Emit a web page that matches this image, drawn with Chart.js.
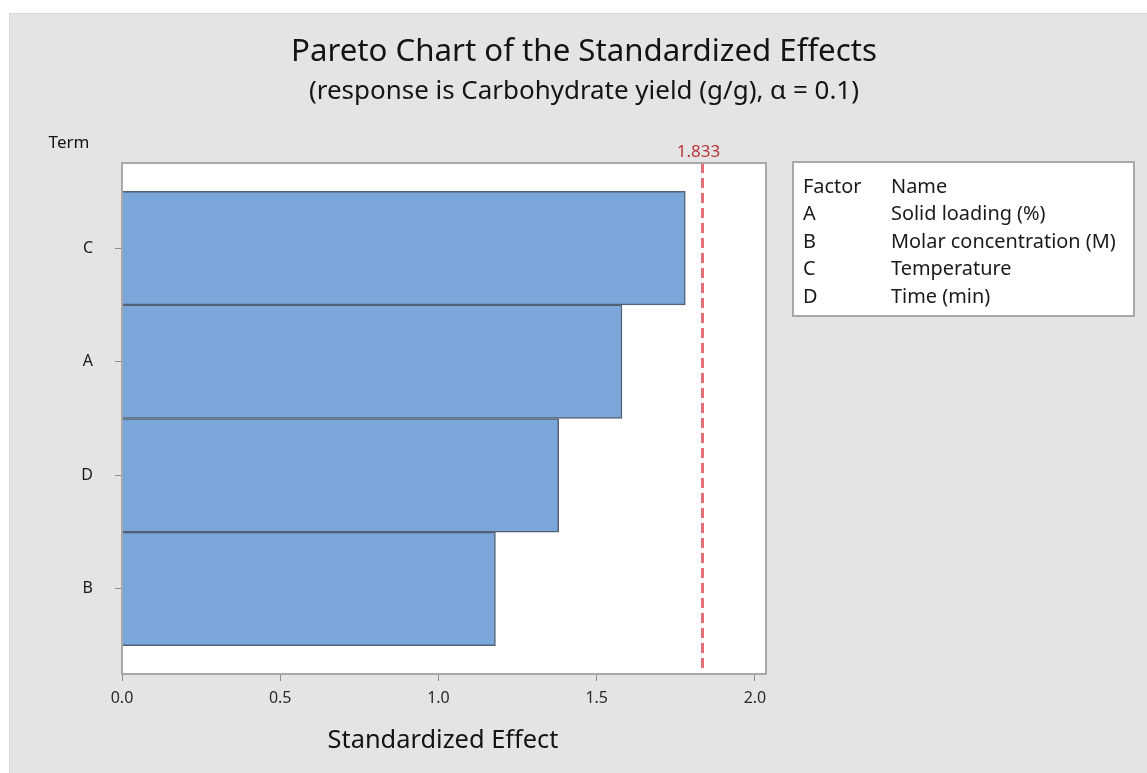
<!DOCTYPE html>
<html>
<head>
<meta charset="utf-8">
<title>Pareto Chart of the Standardized Effects</title>
<script src="https://cdn.jsdelivr.net/npm/chart.js@4/dist/chart.umd.min.js"></script>
<style>
  html, body { margin: 0; padding: 0; background: #ffffff; }
  #wrap { width: 1147px; height: 773px; }
</style>
</head>
<body>
<div id="wrap"><canvas id="pareto" width="1147" height="773"></canvas></div>
<script>
// Terms in Pareto order (largest effect first) and their standardized effects
const terms = ['C', 'A', 'D', 'B'];
const effects = [1.78, 1.58, 1.38, 1.18];

// Critical value of the standardized effect at alpha = 0.1
const criticalValue = 1.833;

// Tick values of the effect axis
const effectTicks = [0, 0.5, 1.0, 1.5, 2.0];

// Factor key shown beside the plot
const factorCodes = ['A', 'B', 'C', 'D'];
const factorNames = ['Solid loading (%)', 'Molar concentration (M)', 'Temperature', 'Time (min)'];

const titleText = 'Pareto Chart of the Standardized Effects';
const subtitleText = '(response is Carbohydrate yield (g/g), \u03B1 = 0.1)';
const xTitleText = 'Standardized Effect';
const yTitleText = 'Term';

const FONT = '"Noto Sans", "Open Sans", "DejaVu Sans", sans-serif';
Chart.defaults.font.family = FONT;

// Pick a font size so a line of text spans the given width
function fitFont(ctx, text, width, base) {
  ctx.font = base + 'px ' + FONT;
  const size = base * width / ctx.measureText(text).width;
  return size.toFixed(2) + 'px ' + FONT;
}

// Grey panel behind the whole figure plus white plot area
const panelPlugin = {
  id: 'panel',
  beforeDraw(chart) {
    const ctx = chart.ctx;
    const a = chart.chartArea;
    ctx.save();
    ctx.fillStyle = '#ffffff';
    ctx.fillRect(0, 0, chart.width, chart.height);
    ctx.fillStyle = '#d8d8d8';
    ctx.fillRect(9, 13, chart.width - 9, chart.height - 13);
    ctx.fillStyle = '#e4e4e4';
    ctx.fillRect(10, 14, chart.width - 10, chart.height - 14);
    ctx.fillStyle = '#ffffff';
    ctx.fillRect(a.left, a.top, a.right - a.left, a.bottom - a.top);
    ctx.restore();
  }
};

// Frame, reference line, titles and factor key
const decorPlugin = {
  id: 'decor',
  afterDatasetsDraw(chart) {
    const ctx = chart.ctx;
    const a = chart.chartArea;
    const xs = chart.scales.x;
    ctx.save();

    // dashed reference line at the critical value
    const xc = Math.round(xs.getPixelForValue(criticalValue)) + 0.5;
    ctx.strokeStyle = '#e46f75';
    ctx.lineWidth = 3;
    ctx.setLineDash([10, 5]);
    ctx.beginPath();
    ctx.moveTo(xc, a.top);
    ctx.lineTo(xc, a.bottom);
    ctx.stroke();
    ctx.setLineDash([]);

    // plot frame
    ctx.strokeStyle = '#a8a8a8';
    ctx.lineWidth = 2;
    ctx.strokeRect(a.left, a.top, a.right - a.left, a.bottom - a.top);

    // critical value label
    ctx.fillStyle = '#b8353a';
    ctx.font = '17px ' + FONT;
    ctx.textAlign = 'center';
    ctx.textBaseline = 'middle';
    ctx.fillText(criticalValue.toFixed(3), xc - 4, a.top - 11);

    // titles
    ctx.fillStyle = '#141414';
    ctx.font = fitFont(ctx, titleText, 586, 26);
    ctx.fillText(titleText, 584, 52);
    ctx.font = fitFont(ctx, subtitleText, 550, 20);
    ctx.fillText(subtitleText, 584, 92);

    // axis titles
    ctx.font = fitFont(ctx, xTitleText, 231, 21);
    ctx.fillText(xTitleText, 443, 741);
    ctx.font = '17px ' + FONT;
    ctx.fillText(yTitleText, 69, 143);

    // factor key box
    const bx = 793, by = 162, bw = 341, bh = 154;
    ctx.fillStyle = '#ffffff';
    ctx.fillRect(bx, by, bw, bh);
    ctx.strokeStyle = '#a8a8a8';
    ctx.lineWidth = 2;
    ctx.strokeRect(bx, by, bw, bh);
    ctx.fillStyle = '#1a1a1a';
    ctx.font = fitFont(ctx, factorNames[1], 225, 15);
    ctx.textAlign = 'left';
    const rowY = 187, rowH = 27.5;
    ctx.fillText('Factor', 803, rowY);
    ctx.fillText('Name', 891, rowY);
    factorCodes.forEach((c, i) => {
      ctx.fillText(c, 803, rowY + rowH * (i + 1));
      ctx.fillText(factorNames[i], 891, rowY + rowH * (i + 1));
    });

    ctx.restore();
  }
};

new Chart(document.getElementById('pareto'), {
  type: 'bar',
  data: {
    datasets: [{
      data: effects.map((v, i) => ({ x: v, y: i })),
      backgroundColor: '#7ba6d9',
      borderColor: '#536275',
      borderWidth: 1.5,
      borderSkipped: 'start',
      barPercentage: 1,
      categoryPercentage: 1
    }]
  },
  options: {
    indexAxis: 'y',
    responsive: false,
    animation: false,
    devicePixelRatio: 1,
    layout: { padding: { left: 0, top: 163, right: 381, bottom: 0 } },
    plugins: {
      legend: { display: false },
      tooltip: { enabled: false },
      title: { display: false }
    },
    scales: {
      x: {
        type: 'linear',
        position: 'bottom',
        min: 0,
        max: 2.035,
        afterBuildTicks(scale) { scale.ticks = effectTicks.map(v => ({ value: v })); },
        afterFit(scale) { scale.height = 99; },
        ticks: {
          color: '#2a2a2a',
          font: { size: 16 },
          padding: 8,
          callback: v => Number(v).toFixed(1)
        },
        grid: { drawOnChartArea: false, drawTicks: true, tickLength: 7, color: '#8c8c8c' },
        border: { display: false }
      },
      y: {
        type: 'linear',
        position: 'left',
        reverse: true,
        offset: false,
        min: -0.75,
        max: terms.length - 0.25,
        afterBuildTicks(scale) { scale.ticks = terms.map((t, i) => ({ value: i })); },
        afterFit(scale) { scale.width = 122; },
        ticks: {
          color: '#1a1a1a',
          font: { size: 16 },
          padding: 22,
          callback: v => terms[v]
        },
        grid: { offset: false, drawOnChartArea: false, drawTicks: true, tickLength: 7, color: '#8c8c8c' },
        border: { display: false }
      }
    }
  },
  plugins: [panelPlugin, decorPlugin]
});
</script>
</body>
</html>
